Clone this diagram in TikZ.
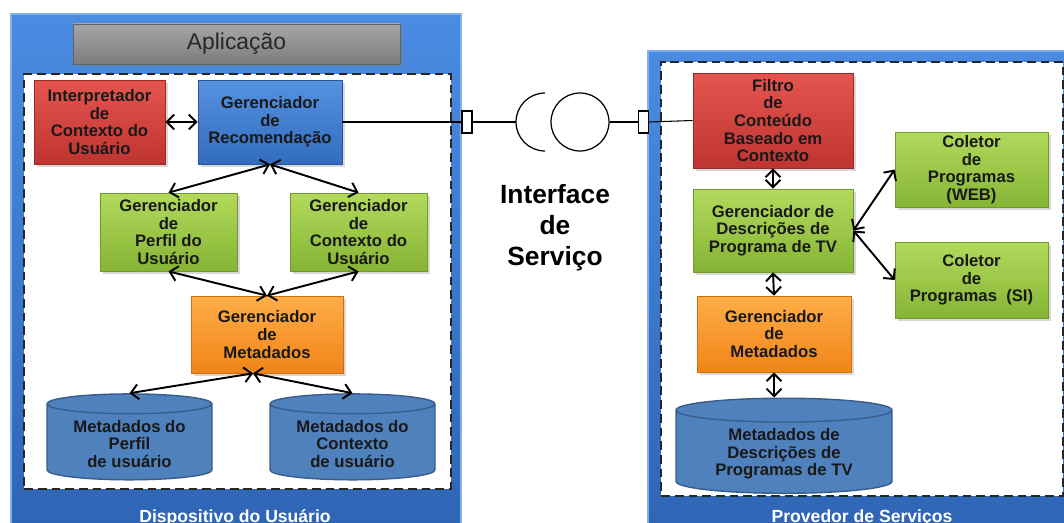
\documentclass[tikz,border=0pt]{standalone}
\usepackage{fontspec}
\setmainfont{Liberation Sans}
\usetikzlibrary{shapes.geometric, arrows.meta, positioning, shadows}

\definecolor{panelTop}{HTML}{4A8CE2}
\definecolor{panelBot}{HTML}{2E64B4}
\definecolor{panelEdge}{HTML}{80B0EE}
\definecolor{redTop}{HTML}{E5554F}
\definecolor{redBot}{HTML}{BE3430}
\definecolor{blueTop}{HTML}{5592E0}
\definecolor{blueBot}{HTML}{326CBE}
\definecolor{greenTop}{HTML}{B2DA5C}
\definecolor{greenBot}{HTML}{86B434}
\definecolor{orangeTop}{HTML}{FFAE48}
\definecolor{orangeBot}{HTML}{F08418}
\definecolor{grayTop}{HTML}{A6A6A6}
\definecolor{grayBot}{HTML}{7C7C7C}
\definecolor{cylFill}{HTML}{4F81BD}
\definecolor{cylEdge}{HTML}{385D8A}

\begin{document}
\begin{tikzpicture}[node distance=2.2cm]
\clip (0,0) rectangle (21.28,10.44);

% Define block styles
\tikzstyle{panel} = [rectangle, draw=panelEdge, line width=1pt, top color=panelTop, bottom color=panelBot, anchor=north west]
\tikzstyle{area} = [rectangle, draw=black!85, fill=white, line width=1.3pt, dash pattern=on 5pt off 2.8pt, anchor=south west]
\tikzstyle{box} = [rectangle, align=center, inner sep=1pt, font=\fontsize{9.5}{10}\selectfont\bfseries, text=black!90, drop shadow={shadow xshift=0.05cm, shadow yshift=-0.06cm, opacity=0.3}]
\tikzstyle{redbox} = [box, draw=redBot!80!black, top color=redTop, bottom color=redBot]
\tikzstyle{bluebox} = [box, draw=blueBot!80!black, top color=blueTop, bottom color=blueBot]
\tikzstyle{greenbox} = [box, draw=greenBot!85!black, top color=greenTop, bottom color=greenBot]
\tikzstyle{orangebox} = [box, draw=orangeBot!85!black, top color=orangeTop, bottom color=orangeBot]
\tikzstyle{base} = [cylinder, shape border rotate=90, aspect=0.16, draw=cylEdge, fill=cylFill, line width=0.8pt, align=center, font=\fontsize{9.5}{10}\selectfont\bfseries, text=black!90]
\tikzstyle{plug} = [rectangle, draw, fill=white, line width=0.6pt, minimum width=0.2cm, minimum height=0.44cm, inner sep=0pt]
\tikzstyle{arrow} = [line width=1.1pt, <->, >={Straight Barb[length=1.5mm, width=3mm]}]
\tikzstyle{caption} = [text=white, font=\fontsize{10}{12}\selectfont\bfseries, anchor=base]

% Panels
\node (dispositivo) [panel, minimum width=9.0cm, minimum height=10.5cm] at (0.2,10.18) {};
\node (provedor) [panel, minimum width=8.6cm, minimum height=9.8cm] at (12.94,9.44) {};
\node (capDisp) [caption] at (4.7,0.0) {Dispositivo do Usuário};
\node (capProv) [caption] at (17.24,0.0) {Provedor de Serviços};

\node (aplicacao) [rectangle, draw=grayBot!80!black, top color=grayTop, bottom color=grayBot, minimum width=6.54cm, minimum height=0.8cm, font=\fontsize{13}{15}\selectfont, text=black!85, drop shadow={shadow xshift=0.05cm, shadow yshift=-0.06cm, opacity=0.3}] at (4.73,9.56) {Aplicação};

\node (areaL) [area, minimum width=8.54cm, minimum height=8.3cm] at (0.46,0.64) {};
\node (areaR) [area, minimum width=8.04cm, minimum height=8.68cm] at (13.2,0.5) {};

% User device nodes
\node (recom) [bluebox, minimum width=2.88cm, minimum height=1.68cm] at (5.40,8.0) {Gerenciador\\de\\Recomendação};
\node (interp) [redbox, left of=recom, xshift=-1.21cm, minimum width=2.62cm, minimum height=1.68cm] {Interpretador\\de\\Contexto do\\Usuário};
\node (perfilU) [greenbox, below of=recom, xshift=-2.03cm, minimum width=2.74cm, minimum height=1.56cm] {Gerenciador\\de\\Perfil do\\Usuário};
\node (ctxU) [greenbox, below of=recom, xshift=1.77cm, minimum width=2.74cm, minimum height=1.56cm] {Gerenciador\\de\\Contexto do\\Usuário};
\node (metaL) [orangebox, below of=perfilU, xshift=1.97cm, yshift=0.15cm, minimum width=3.04cm, minimum height=1.54cm] {Gerenciador\\de\\Metadados};
\node (cylPerfil) [base, below of=metaL, xshift=-2.75cm, yshift=0.01cm, minimum width=3.3cm, minimum height=1.68cm] {Metadados do\\Perfil\\de usuário};
\node (cylCtx) [base, below of=metaL, xshift=1.71cm, yshift=0.01cm, minimum width=3.3cm, minimum height=1.68cm] {Metadados do\\Contexto\\de usuário};

% Service provider nodes
\node (filtro) [redbox, minimum width=3.2cm, minimum height=1.9cm] at (15.46,8.03) {Filtro\\de\\Conteúdo\\Baseado em\\Contexto};
\node (descr) [greenbox, below of=filtro, minimum width=3.2cm, minimum height=1.66cm] {Gerenciador de\\Descrições de\\Programa de TV};
\node (web) [greenbox, right of=descr, xshift=1.77cm, yshift=1.22cm, minimum width=3.06cm, minimum height=1.5cm] {Coletor\\de\\Programas\\(WEB)};
\node (si) [greenbox, right of=descr, xshift=1.77cm, yshift=-0.99cm, minimum width=3.06cm, minimum height=1.52cm] {Coletor\\de\\Programas~~(SI)};
\node (metaR) [orangebox, below of=descr, xshift=0.02cm, yshift=0.13cm, minimum width=3.08cm, minimum height=1.52cm] {Gerenciador\\de\\Metadados};
\node (cylTV) [base, below of=metaR, xshift=0.2cm, yshift=-0.2cm, minimum width=4.32cm, minimum height=1.84cm] {Metadados de\\Descrições de\\Programas de TV};

% Service interface
\node (plugL) [plug] at (9.34,8.0) {};
\coordinate (sock) at (10.32,8.0);
\node (ball) [circle, draw, line width=0.7pt, minimum size=1.16cm] at (11.6,8.0) {};
\node (plugR) [plug] at (12.87,8.0) {};
\node (iface) [align=center, font=\fontsize{15}{17.6}\selectfont\bfseries] at (11.1,5.88) {Interface\\de\\Serviço};

\draw [line width=0.6pt] (recom.east) -- (plugL.west);
\draw [line width=0.6pt] (plugL.east) -- (sock);
\draw [line width=0.7pt] ([shift={(0.58,0.58)}]sock) arc (90:270:0.58);
\draw [line width=0.6pt] (ball.east) -- (plugR.west);
\draw [line width=0.6pt] (plugR.east) -- (filtro.west);

% Draw arrows
\draw [arrow] (interp.east) -- (recom.west);
\draw [arrow] (recom.south) -- (perfilU.north);
\draw [arrow] (recom.south) -- (ctxU.north);
\draw [arrow] (perfilU.south) -- (metaL.north);
\draw [arrow] (ctxU.south) -- (metaL.north);
\draw [arrow] ([xshift=-0.28cm]metaL.south) -- (cylPerfil.north);
\draw [arrow] ([xshift=-0.28cm]metaL.south) -- (cylCtx.north);

\draw [arrow] (filtro.south) -- (descr.north);
\draw [arrow] (descr.east) -- (web.west);
\draw [arrow] (descr.east) -- (si.west);
\draw [arrow] (descr.south) -- (metaR.north);
\draw [arrow] (metaR.south) -- (metaR.south |- cylTV.north);
\end{tikzpicture}
\end{document}
